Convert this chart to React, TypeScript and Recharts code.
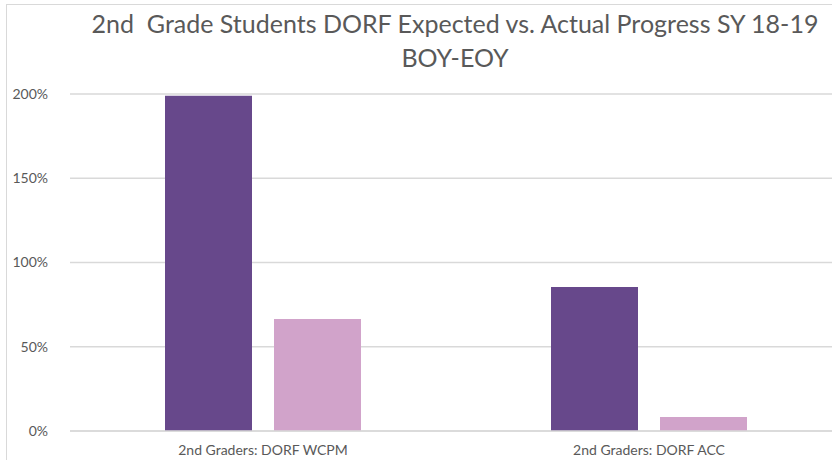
import { BarChart, Bar, XAxis, YAxis, CartesianGrid } from "recharts";

const categories = ["2nd Graders: DORF WCPM", "2nd Graders: DORF ACC"];
const expected = [199, 85.5];
const actual = [66.5, 8.3];
const yTicks = [0, 50, 100, 150, 200];

const titleLines = ["2nd  Grade Students DORF Expected vs. Actual Progress SY 18-19", "BOY-EOY"];

const data = categories.map((name, i) => ({ name, expected: expected[i], actual: actual[i] }));

const FONT = "Lato, 'Open Sans', sans-serif";

export default function App() {
  return (
    <div
      style={{
        position: "absolute",
        left: 0,
        top: 0,
        width: 832,
        height: 460,
        overflow: "hidden",
        background: "#fff",
        fontFamily: FONT,
      }}
    >
      <div
        style={{
          position: "absolute",
          left: 6,
          top: 4,
          width: 900,
          height: 600,
          border: "1px solid #d9d9d9",
        }}
      />
      <div
        style={{
          position: "absolute",
          left: 0,
          top: 6,
          width: 910,
          textAlign: "center",
          color: "#595959",
          fontSize: 25,
          lineHeight: "34px",
          whiteSpace: "pre",
        }}
      >
        {titleLines.map((t) => (
          <div key={t}>{t}</div>
        ))}
      </div>
      <div style={{ position: "absolute", left: 0, top: 0 }}>
        <BarChart
          width={842}
          height={460}
          data={data}
          margin={{ top: 94, right: 0, left: 0, bottom: 0 }}
          barGap={22}
          barSize={87}
        >
          <CartesianGrid vertical={false} stroke="#d9d9d9" strokeWidth={1.5} />
          <XAxis
            dataKey="name"
            height={29}
            axisLine={{ stroke: "#d9d9d9", strokeWidth: 1.5 }}
            tickLine={false}
            tickMargin={8}
            tick={{ fontSize: 14, fill: "#595959", fontFamily: FONT }}
          />
          <YAxis
            width={70}
            domain={[0, 200]}
            ticks={yTicks}
            interval={0}
            axisLine={false}
            tickLine={false}
            tickMargin={16}
            tickFormatter={(v: number) => `${v}%`}
            tick={{ fontSize: 14, fill: "#595959", fontFamily: FONT }}
          />
          <Bar dataKey="expected" fill="#67488b" isAnimationActive={false} />
          <Bar dataKey="actual" fill="#d1a3ca" isAnimationActive={false} />
        </BarChart>
      </div>
    </div>
  );
}
